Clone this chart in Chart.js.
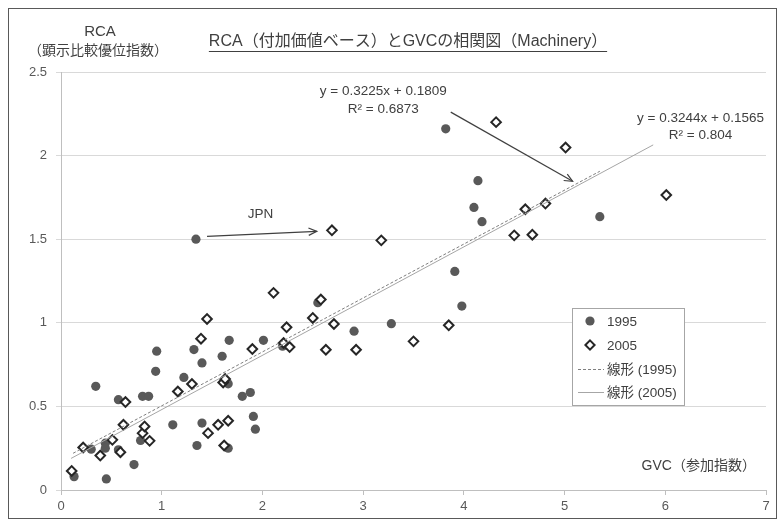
<!DOCTYPE html>
<html>
<head>
<meta charset="utf-8">
<script src="https://cdn.jsdelivr.net/npm/chart.js@4.4.1/dist/chart.umd.min.js"></script>
<style>
html,body{margin:0;padding:0;background:#fff;}
#wrap{width:779px;height:521px;position:relative;}
canvas{display:block;}
</style>
</head>
<body>
<div id="wrap"><canvas id="c" width="779" height="521"></canvas></div>
<script>
// ---- data ----
const gvc1995 = [0.13,0.345,0.30,0.44,0.44,0.45,0.57,0.57,0.725,0.79,0.81,0.87,0.95,0.94,1.11,1.22,1.32,1.34,1.35,1.40,1.40,1.60,1.66,1.66,1.67,1.80,1.88,1.91,1.93,2.01,2.20,2.55,2.91,3.28,3.91,3.98,3.82,4.10,4.14,4.18,5.35];
const rca1995 = [0.08,0.62,0.244,0.28,0.25,0.066,0.54,0.24,0.152,0.296,0.56,0.56,0.83,0.71,0.39,0.673,0.84,1.50,0.266,0.76,0.40,0.80,0.25,0.635,0.895,0.56,0.583,0.44,0.364,0.895,0.86,1.12,0.95,0.995,1.307,1.10,2.16,1.69,1.85,1.605,1.635];
const gvc2005 = [0.106,0.22,0.39,0.51,0.59,0.62,0.64,0.81,0.83,0.88,1.16,1.30,1.39,1.45,1.46,1.56,1.61,1.62,1.63,1.66,1.90,2.11,2.21,2.24,2.27,2.50,2.58,2.63,2.69,2.71,2.93,3.18,3.50,3.85,4.32,4.50,4.61,4.68,4.81,5.01,6.01];
const rca2005 = [0.114,0.254,0.206,0.30,0.226,0.39,0.526,0.34,0.38,0.294,0.589,0.634,0.905,1.023,0.34,0.39,0.643,0.266,0.664,0.414,0.843,1.179,0.879,0.973,0.855,1.029,1.139,0.839,1.553,0.993,0.839,1.493,0.889,0.985,2.20,1.523,1.679,1.527,1.713,2.048,1.764];
const trendCoef1995 = [0.3225, 0.1809];   // slope, intercept
const trendCoef2005 = [0.3244, 0.1565];
const trendRange1995 = [0.12, 5.35];
const trendRange2005 = [0.10, 5.88];
const seriesLabels = ['1995', '2005', '線形 (1995)', '線形 (2005)'];
const xTickLabels = ['0','1','2','3','4','5','6','7'];
const yTickLabels = ['0','0.5','1','1.5','2','2.5'];
const titleText = 'RCA（付加価値ベース）とGVCの相関図（Machinery）';
const yTitleLines = ['RCA', '（顕示比較優位指数）'];
const xTitleText = 'GVC（参加指数）';
const eq1995 = ['y = 0.3225x + 0.1809', 'R² = 0.6873'];
const eq2005 = ['y = 0.3244x + 0.1565', 'R² = 0.804'];
const jpnLabel = 'JPN';

// ---- build datasets ----
const pts = (xs, ys) => xs.map((x, i) => ({x: x, y: ys[i]}));
const trendPts = (coef, rng) => rng.map(x => ({x: x, y: coef[0] * x + coef[1]}));

const LAT = '"Liberation Sans", Arial, "Noto Sans CJK JP", sans-serif';
const MIX = '"Liberation Sans", "Noto Sans CJK JP", sans-serif';

function arrow(ctx, x1, y1, x2, y2) {
  ctx.beginPath();
  ctx.moveTo(x1, y1); ctx.lineTo(x2, y2); ctx.stroke();
  const a = Math.atan2(y2 - y1, x2 - x1), L = 9, s = 0.42;
  ctx.beginPath();
  ctx.moveTo(x2 - L * Math.cos(a - s), y2 - L * Math.sin(a - s));
  ctx.lineTo(x2, y2);
  ctx.lineTo(x2 - L * Math.cos(a + s), y2 - L * Math.sin(a + s));
  ctx.stroke();
}

const overlay = {
  id: 'overlay',
  beforeDraw(chart) {
    const ctx = chart.ctx;
    ctx.save(); ctx.fillStyle = '#fff'; ctx.fillRect(0, 0, chart.width, chart.height); ctx.restore();
  },
  afterDatasetsDraw(chart) {
    const ctx = chart.ctx, xs = chart.scales.x, ys = chart.scales.y;
    const X = v => xs.getPixelForValue(v), Y = v => ys.getPixelForValue(v);
    ctx.save();
    // title
    ctx.fillStyle = '#404040';
    ctx.textBaseline = 'middle';
    ctx.textAlign = 'center';
    ctx.font = '16px ' + MIX;
    const tcx = 408, tcy = 42;
    ctx.fillText(titleText, tcx, tcy);
    const tw = ctx.measureText(titleText).width;
    ctx.strokeStyle = '#404040'; ctx.lineWidth = 1;
    ctx.beginPath(); ctx.moveTo(tcx - tw / 2, tcy + 9.5); ctx.lineTo(tcx + tw / 2, tcy + 9.5); ctx.stroke();
    // y title
    ctx.font = '15px ' + LAT;
    ctx.fillText(yTitleLines[0], 100, 32);
    ctx.font = '14px ' + MIX;
    ctx.fillText(yTitleLines[1], 98, 51);
    // x title
    ctx.textAlign = 'right';
    ctx.font = '14px ' + MIX;
    ctx.fillText(xTitleText, X(6.9), Y(0.144));
    // equations
    ctx.textAlign = 'center';
    ctx.font = '13.5px ' + LAT;
    ctx.fillText(eq1995[0], X(3.20), Y(2.386));
    ctx.fillText(eq1995[1], X(3.20), Y(2.278));
    ctx.fillText(eq2005[0], X(6.35), Y(2.224));
    ctx.fillText(eq2005[1], X(6.35), Y(2.122));
    ctx.fillText(jpnLabel, X(1.98), Y(1.649));
    // arrows
    ctx.strokeStyle = '#404040'; ctx.lineWidth = 1.2;
    arrow(ctx, X(3.87), Y(2.26), X(5.08), Y(1.846));
    arrow(ctx, X(1.45), Y(1.517), X(2.54), Y(1.547));
    // legend
    const lx = 572.5, ly = 308.5, lw = 112, lh = 97;
    ctx.fillStyle = '#fff'; ctx.fillRect(lx, ly, lw, lh);
    ctx.strokeStyle = '#a6a6a6'; ctx.lineWidth = 1; ctx.strokeRect(lx, ly, lw, lh);
    const rows = [321, 345, 369, 392];
    ctx.fillStyle = '#595959';
    ctx.beginPath(); ctx.arc(590, rows[0], 4.6, 0, Math.PI * 2); ctx.fill();
    ctx.strokeStyle = '#262626'; ctx.lineWidth = 2; ctx.fillStyle = '#fff';
    ctx.beginPath(); ctx.moveTo(590, rows[1] - 4.6); ctx.lineTo(594.6, rows[1]); ctx.lineTo(590, rows[1] + 4.6); ctx.lineTo(585.4, rows[1]); ctx.closePath(); ctx.fill(); ctx.stroke();
    ctx.lineWidth = 1; ctx.strokeStyle = '#7f7f7f'; ctx.setLineDash([3, 2]);
    ctx.beginPath(); ctx.moveTo(578, rows[2] + 0.5); ctx.lineTo(604, rows[2] + 0.5); ctx.stroke();
    ctx.setLineDash([]); ctx.strokeStyle = '#a6a6a6';
    ctx.beginPath(); ctx.moveTo(578, rows[3] + 0.5); ctx.lineTo(604, rows[3] + 0.5); ctx.stroke();
    ctx.fillStyle = '#404040'; ctx.textAlign = 'left'; ctx.font = '13.5px ' + MIX;
    seriesLabels.forEach((t, i) => ctx.fillText(t, 607, rows[i] + 1));
    ctx.restore();
  },
  afterDraw(chart) {
    const ctx = chart.ctx;
    ctx.save();
    ctx.strokeStyle = '#595959'; ctx.lineWidth = 1;
    ctx.strokeRect(8.5, 8.5, 768, 510);
    ctx.restore();
  }
};

new Chart(document.getElementById('c'), {
  type: 'scatter',
  data: {
    datasets: [
      { label: seriesLabels[2], type: 'line', data: trendPts(trendCoef1995, trendRange1995),
        borderColor: '#7f7f7f', borderWidth: 1, borderDash: [3, 2], pointRadius: 0, fill: false, order: 1 },
      { label: seriesLabels[3], type: 'line', data: trendPts(trendCoef2005, trendRange2005),
        borderColor: '#a6a6a6', borderWidth: 1, pointRadius: 0, fill: false, order: 1 },
      { label: seriesLabels[0], data: pts(gvc1995, rca1995), pointStyle: 'circle', pointRadius: 4.6,
        backgroundColor: '#595959', borderColor: '#595959', borderWidth: 0, order: 3 },
      { label: seriesLabels[1], data: pts(gvc2005, rca2005), pointStyle: 'rectRot', pointRadius: 4.8,
        backgroundColor: '#ffffff', borderColor: '#262626', borderWidth: 2, order: 2 }
    ]
  },
  options: {
    responsive: false,
    animation: false,
    devicePixelRatio: 1,
    layout: { padding: { top: 72, right: 13, left: 0, bottom: 0 } },
    plugins: { legend: { display: false }, tooltip: { enabled: false }, title: { display: false } },
    scales: {
      x: {
        type: 'linear', min: 0, max: 7,
        afterFit: s => { s.height = 31; },
        ticks: { stepSize: 1, color: '#595959', font: { size: 13, family: LAT }, padding: 4,
                 callback: (v, i) => xTickLabels[i] },
        grid: { drawOnChartArea: false, drawTicks: true, tickLength: 5, color: '#bfbfbf' },
        border: { color: '#bfbfbf' }
      },
      y: {
        type: 'linear', min: 0, max: 2.5,
        afterFit: s => { s.width = 61; },
        ticks: { stepSize: 0.5, color: '#595959', font: { size: 13, family: LAT }, padding: 9,
                 callback: (v, i) => yTickLabels[i] },
        grid: { color: '#d9d9d9', tickLength: 5, drawTicks: true },
        border: { color: '#bfbfbf' }
      }
    }
  },
  plugins: [overlay]
});
</script>
</body>
</html>
